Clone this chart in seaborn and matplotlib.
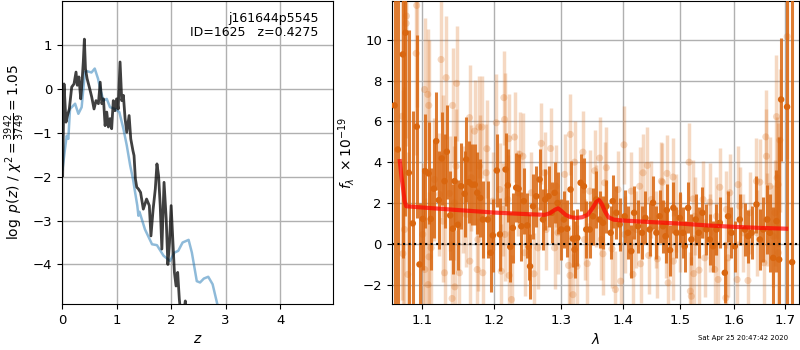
import matplotlib
matplotlib.use("Agg")
import matplotlib.pyplot as plt
import seaborn as sns
from matplotlib.ticker import NullLocator, NullFormatter

# ---------------- data: left panel (log p(z)) ----------------
z_prior = [0.01, 0.055, 0.086, 0.116, 0.147, 0.24, 0.30, 0.36, 0.42, 0.46, 0.54, 0.60,
           0.66, 0.70, 0.76, 0.82, 0.88, 0.97, 1.05, 1.125, 1.187, 1.25, 1.30, 1.34,
           1.38, 1.40, 1.42, 1.52, 1.65, 1.74, 1.86, 1.98, 2.06, 2.13, 2.21, 2.32,
           2.38, 2.47, 2.53, 2.60, 2.68, 2.76, 2.84, 2.92, 3.00]
lp_prior = [-1.83, -1.37, -1.07, -1.14, -0.46, -0.34, -0.57, -0.42, 0.38, 0.40, 0.37, 0.46,
            0.23, 0.0, -0.27, -0.23, -0.42, -0.46, -0.53, -0.91, -1.29, -1.75, -2.05, -2.36,
            -2.66, -2.89, -2.80, -3.20, -3.54, -3.56, -3.80, -3.92, -3.73, -3.69, -3.50, -3.44,
            -3.73, -4.38, -4.41, -4.32, -4.28, -4.45, -4.87, -5.30, -5.80]

z_chi2 = [0.012, 0.037, 0.073, 0.10, 0.134, 0.178, 0.22, 0.257, 0.28, 0.31, 0.343, 0.367,
          0.39, 0.41, 0.43, 0.46, 0.50, 0.545, 0.587, 0.624, 0.667, 0.70, 0.73, 0.76,
          0.79, 0.82, 0.85, 0.88, 0.91, 0.94, 0.97, 1.0, 1.03, 1.064, 1.095, 1.125,
          1.156, 1.187, 1.23, 1.26, 1.30, 1.32, 1.345, 1.37, 1.40, 1.44, 1.49, 1.55,
          1.60, 1.63, 1.67, 1.71, 1.74, 1.77, 1.80, 1.83, 1.87, 1.91, 1.94, 1.97,
          2.0, 2.03, 2.06, 2.09, 2.12, 2.15, 2.19, 2.23, 2.26, 2.29, 2.35]
lp_chi2 = [-1.98, 0.11, -0.76, -0.61, -0.46, 0.04, 0.11, 0.38, 0.08, 0.27, -0.23, 0.15,
           0.61, 1.13, 0.46, 0.23, 0.04, -0.19, -0.46, -0.27, -0.34, 0.15, -0.34, -0.23,
           -0.84, -0.53, -0.87, -0.68, -0.91, -0.27, -0.50, -0.23, -0.46, 0.61, -0.27, -0.15,
           -0.68, -0.99, -0.61, -1.14, -1.41, -1.52, -2.05, -2.24, -2.28, -2.36, -2.74, -2.51,
           -2.66, -3.35, -2.74, -2.28, -1.71, -1.98, -2.66, -3.65, -2.13, -2.97, -4.00, -3.50,
           -2.66, -3.42, -4.18, -4.49, -4.18, -4.79, -5.30, -5.10, -4.83, -5.30, -6.00]

# ---------------- data: right panel (spectrum) ----------------
light_wave = [1.0745, 1.0753, 1.0774, 1.0796, 1.0800, 1.0817, 1.0926, 1.0933, 1.1013, 1.1036,
              1.1040, 1.1079, 1.1083, 1.1092, 1.1096, 1.1124, 1.1169, 1.1236, 1.1258, 1.1279,
              1.1281, 1.1304, 1.1326, 1.1372, 1.1407, 1.1414, 1.1440, 1.1444, 1.1461, 1.1469,
              1.1509, 1.1564, 1.1602, 1.1648, 1.1652, 1.1672, 1.1718, 1.1756, 1.1765, 1.1779,
              1.1789, 1.1822, 1.1835, 1.1884, 1.1893, 1.1978, 1.2029, 1.2075, 1.2099, 1.2124,
              1.2138, 1.2148, 1.2152, 1.2196, 1.2211, 1.2216, 1.2250, 1.2294, 1.2343, 1.2368,
              1.2418, 1.2443, 1.2543, 1.2583, 1.2643, 1.2695, 1.2745, 1.2771, 1.2838, 1.2899,
              1.2925, 1.2951, 1.3055, 1.3117, 1.3140, 1.3145, 1.3186, 1.3212, 1.3250, 1.3345,
              1.3372, 1.3415, 1.3453, 1.3534, 1.3561, 1.3615, 1.3642, 1.3669, 1.3697, 1.3725,
              1.3818, 1.3875, 1.3919, 1.3963, 1.4018, 1.4030, 1.4142, 1.4170, 1.4228, 1.4285,
              1.4300, 1.4342, 1.4417, 1.4440, 1.4486, 1.4574, 1.4592, 1.4662, 1.4680, 1.4750,
              1.4761, 1.4781, 1.4868, 1.4875, 1.4928, 1.4988, 1.5156, 1.5180, 1.5198, 1.5229,
              1.5242, 1.5260, 1.5339, 1.5413, 1.5444, 1.5545, 1.5537, 1.5631, 1.5662, 1.5694,
              1.5725, 1.5839, 1.5852, 1.5883, 1.5915, 1.6055, 1.6074, 1.6107, 1.6170, 1.6266,
              1.6302, 1.6433, 1.6440, 1.6499, 1.6578, 1.6618, 1.6631, 1.6640, 1.6698, 1.6766,
              1.6799, 1.6832, 1.6846, 1.6866, 1.6870, 1.6900, 1.7050]
light_flux = [6.25, -0.48, 0.70, 10.8, 11.16, -1.50, 9.33, 11.68, 0.46, 7.56,
              -1.26, 7.32, -2.00, 6.78, -0.64, -0.20, 3.15, 2.42, 9.03, 4.29,
              1.11, -1.42, 8.14, 2.47, -2.68, 6.78, 2.01, -2.11, 3.80, 7.86,
              -1.42, 2.17, 1.44, 6.18, -0.85, 3.24, 5.52, -1.26, 0.21, 5.72,
              3.80, 5.72, -1.42, 3.48, 4.66, 2.09, 5.93, 2.66, -1.34, 1.68,
              7.16, 6.09, 0.46, 2.17, 5.15, -1.55, -2.73, 5.23, 2.50, 4.38,
              4.29, -0.44, 2.50, -1.47, -0.20, 4.92, 3.48, 0.70, 4.67, -0.20,
              2.82, 0.54, 3.40, -1.06, -1.55, 5.36, -2.49, 4.00, -1.10, 4.49,
              0.21, -0.97, 2.58, 3.58, 1.84, 4.20, 0.21, -0.49, 2.99, 3.73,
              -0.25, -2.24, 2.66, -1.83, 4.85, 0.46, 2.58, -1.50, 0.70, 2.82,
              -0.98, 3.48, 3.84, -0.57, 2.17, 0.70, -0.74, 3.07, 3.02, 0.21,
              3.45, -1.91, 3.27, -0.85, 1.52, 0.54, 4.00, -2.32, -2.57, 2.20,
              -1.46, 1.35, -1.29, 2.17, -0.69, 0.54, 2.04, -1.26, 1.35, -1.75,
              2.77, -2.65, 1.68, -0.69, 2.50, -1.75, 2.90, 1.84, 0.54, -1.80,
              1.52, 3.07, 0.54, 3.02, -0.93, 5.24, 4.29, 1.19, 2.82, 0.37,
              1.52, 6.23, 3.23, 2.90, -0.44, 5.08, 10.15]
light_err = [9.0, 8.0, 7.0, 6.0, 6.0, 6.0, 5.0, 5.0, 3.5, 3.5,
             3.5, 3.2, 3.2, 3.2, 3.2, 3.0, 3.0, 3.0, 3.0, 3.0,
             3.0, 3.0, 3.0, 2.8, 2.8, 2.8, 2.8, 2.8, 2.8, 2.8,
             2.6, 2.6, 2.6, 2.6, 2.6, 2.6, 2.5, 2.5, 2.5, 2.5,
             2.5, 2.5, 2.5, 2.4, 2.4, 2.4, 2.4, 2.3, 2.3, 2.3,
             2.3, 2.3, 2.3, 2.2, 2.2, 2.2, 2.2, 2.2, 2.1, 2.1,
             2.1, 2.1, 2.0, 2.0, 2.0, 2.0, 2.0, 2.0, 2.0, 2.0,
             2.0, 2.0, 2.0, 2.0, 2.0, 2.0, 2.0, 2.0, 2.0, 2.0,
             2.0, 2.0, 2.0, 2.0, 2.0, 2.0, 2.0, 2.0, 2.0, 2.0,
             1.9, 1.9, 1.9, 1.9, 1.9, 1.9, 1.9, 1.9, 1.9, 1.9,
             1.9, 1.9, 1.9, 1.9, 1.9, 1.9, 1.9, 1.9, 1.9, 1.9,
             1.9, 1.9, 1.9, 1.9, 1.9, 1.9, 1.9, 1.9, 1.9, 1.9,
             1.9, 1.9, 1.9, 1.9, 1.9, 1.9, 1.9, 1.9, 1.9, 1.9,
             1.9, 1.9, 1.9, 1.9, 1.9, 1.9, 1.9, 1.9, 1.9, 2.0,
             2.0, 2.1, 2.1, 2.1, 2.2, 2.3, 2.3, 2.3, 2.4, 2.5,
             2.6, 3.0, 3.0, 3.0, 3.2, 3.5, 6.0]

dark_wave = [1.0646, 1.0688, 1.0753, 1.0787, 1.0830, 1.0882, 1.0934, 1.0970, 1.1013, 1.1045,
             1.1089, 1.1119, 1.1160, 1.1192, 1.1227, 1.1267, 1.1304, 1.1335, 1.1381, 1.1417,
             1.1441, 1.1486, 1.1533, 1.1579, 1.1602, 1.1638, 1.1684, 1.1722, 1.1756, 1.1799,
             1.1835, 1.1906, 1.1946, 1.1978, 1.2036, 1.2080, 1.2163, 1.2196, 1.2231, 1.2269,
             1.2319, 1.2354, 1.2394, 1.2432, 1.2483, 1.2505, 1.2525, 1.2570, 1.2620, 1.2669,
             1.2720, 1.2755, 1.2806, 1.2857, 1.2899, 1.2945, 1.3003, 1.3044, 1.3096, 1.3148,
             1.3185, 1.3212, 1.3255, 1.3308, 1.3361, 1.3399, 1.3453, 1.3507, 1.3561, 1.3615,
             1.3670, 1.3725, 1.3797, 1.3830, 1.3891, 1.3946, 1.4030, 1.4086, 1.4142, 1.4190,
             1.4256, 1.4325, 1.4383, 1.4457, 1.4515, 1.4574, 1.4632, 1.4690, 1.4735, 1.4757,
             1.4815, 1.4874, 1.4928, 1.4988, 1.5048, 1.5078, 1.5139, 1.5199, 1.5278, 1.5333,
             1.5401, 1.5475, 1.5537, 1.5599, 1.5662, 1.5725, 1.5820, 1.5883, 1.5947, 1.6011,
             1.6107, 1.6204, 1.6270, 1.6335, 1.6433, 1.6499, 1.6565, 1.6645, 1.6698, 1.6766,
             1.6832, 1.6886, 1.6926, 1.7047, 1.7150]
dark_flux = [6.78, 4.62, 9.28, 10.34, 3.48, 1.00, 5.74, -1.01, 1.22, 3.56,
             3.45, 1.22, 2.70, 5.03, 2.14, 4.18, 3.07, 4.51, 1.39, 0.74,
             3.07, 0.93, 2.82, 2.45, 4.13, 3.02, 2.90, 2.90, 2.50, 2.25,
             1.19, 1.19, -0.44, 0.41, 3.59, 0.46, 3.64, 2.86, -0.15, 0.78,
             2.75, 2.70, 0.86, 2.09, 0.90, -0.15, -1.10, 1.84, 2.33, 3.15,
             1.19, 2.17, 2.33, 1.52, 2.50, 2.00, 0.70, 1.19, 0.74, 2.66,
             0.25, -0.28, 0.29, 2.99, 2.82, 0.70, 0.70, 1.35, 2.17, 1.19,
             1.03, 1.84, 0.54, 2.09, 1.52, 0.95, 1.35, 0.54, -0.36, 1.52,
             0.86, 0.54, 1.27, 0.70, 2.01, 0.54, 1.35, 0.86, 0.37, 1.65,
             -0.31, 1.76, 0.54, 1.27, 0.54, -0.12, 1.76, 0.21, 1.19, 0.54,
             1.52, 0.70, 0.21, -0.12, 0.70, 1.03, -1.42, 1.35, 0.54, -0.12,
             1.19, 0.70, 0.37, 0.54, 1.93, 0.21, 0.70, 1.19, 0.54, -0.69,
             1.11, -0.77, 7.07, 6.71, -0.90]
dark_err = [15.0, 12.0, 10.0, 9.0, 7.0, 5.5, 4.5, 3.0, 2.5, 2.8,
            2.5, 2.5, 2.4, 2.4, 2.4, 2.3, 2.3, 2.3, 2.2, 2.2,
            2.2, 2.2, 2.1, 2.1, 2.1, 2.0, 2.0, 2.0, 2.0, 1.9,
            1.9, 1.9, 1.9, 1.8, 1.8, 1.8, 1.8, 1.8, 1.7, 1.7,
            1.7, 1.7, 1.7, 1.6, 1.6, 1.6, 1.6, 1.6, 1.5, 1.5,
            1.5, 1.5, 1.5, 1.5, 1.5, 1.5, 1.5, 1.4, 1.4, 1.4,
            1.4, 1.4, 1.4, 1.4, 1.4, 1.4, 1.4, 1.4, 1.4, 1.4,
            1.3, 1.3, 1.3, 1.3, 1.3, 1.3, 1.3, 1.3, 1.3, 1.3,
            1.3, 1.3, 1.3, 1.3, 1.3, 1.3, 1.3, 1.3, 1.3, 1.3,
            1.25, 1.25, 1.25, 1.25, 1.25, 1.25, 1.25, 1.25, 1.25, 1.25,
            1.25, 1.25, 1.25, 1.25, 1.25, 1.25, 1.5, 1.25, 1.25, 1.25,
            1.25, 1.3, 1.3, 1.3, 1.4, 1.5, 1.6, 1.7, 1.9, 2.5,
            2.5, 6.0, 3.0, 15.0, 15.0]

model_wave = [1.0714, 1.0735, 1.0755, 1.0775, 1.0796, 1.10, 1.15, 1.20, 1.25, 1.275,
              1.283, 1.290, 1.2954, 1.300, 1.307, 1.315, 1.324, 1.333, 1.342, 1.350,
              1.356, 1.3607, 1.365, 1.370, 1.376, 1.385, 1.40, 1.45, 1.50, 1.55,
              1.60, 1.65, 1.703]
model_flux = [4.05, 3.30, 2.74, 2.10, 1.84, 1.78, 1.65, 1.53, 1.45, 1.42,
              1.50, 1.66, 1.74, 1.62, 1.42, 1.30, 1.27, 1.30, 1.42, 1.75,
              2.05, 2.14, 1.95, 1.60, 1.30, 1.18, 1.14, 1.06, 0.99, 0.90,
              0.83, 0.78, 0.74]

wave_ticks = [1.1, 1.2, 1.3, 1.4, 1.5, 1.6, 1.7]
wave_ticklabels = ["1.1", "1.2", "1.3", "1.4", "1.5", "1.6", "1.7"]

title_text = "j161644p5545\nID=1625   z=0.4275"
stamp_text = "Sat Apr 25 20:47:42 2020"

# ---------------- figure ----------------
plt.rcParams['font.family'] = ['DejaVu Sans']
fig = plt.figure(figsize=(8, 3.5), dpi=100)
ax1 = fig.add_axes([0.0775, 0.1314, 0.339, 0.866])
ax2 = fig.add_axes([0.4896, 0.1314, 0.509, 0.866])

grid_kw = dict(color='#b0b0b0', linewidth=1.0)

# left panel
sns.lineplot(x=z_prior, y=lp_prior, ax=ax1, color='#1f77b4', alpha=0.5, linewidth=1.8,
             estimator=None, sort=False)
sns.lineplot(x=z_chi2, y=lp_chi2, ax=ax1, color='k', alpha=0.75, linewidth=2.0,
             estimator=None, sort=False)
ax1.set_xlim(0, 4.97)
ax1.set_ylim(-4.9, 2.0)
ax1.set_xticks([0, 1, 2, 3, 4])
ax1.set_yticks([-4, -3, -2, -1, 0, 1])
ax1.grid(True, **grid_kw)
ax1.tick_params(labelsize=9.5)
ax1.set_xlabel(r'$z$', fontsize=10)
ax1.set_ylabel(r'$\log\ p(z)$ / $\chi^2=\frac{3942}{3749}=1.05$', fontsize=10)
ax1.text(0.945, 0.965, title_text, transform=ax1.transAxes, ha='right', va='top',
         fontsize=9, linespacing=1.15)

# right panel
orange = '#d9660f'
ax2.errorbar(light_wave, light_flux, yerr=light_err, fmt='none', ecolor=orange,
             alpha=0.25, elinewidth=2.5, capsize=0, zorder=2)
sns.scatterplot(x=light_wave, y=light_flux, ax=ax2, color=orange, alpha=0.25, s=26,
                edgecolor='none', zorder=2)
ax2.errorbar(dark_wave, dark_flux, yerr=dark_err, fmt='none', ecolor=orange,
             alpha=0.85, elinewidth=2.2, capsize=0, zorder=3)
sns.scatterplot(x=dark_wave, y=dark_flux, ax=ax2, color=orange, alpha=1.0, s=22,
                edgecolor='none', zorder=3)
sns.lineplot(x=model_wave, y=model_flux, ax=ax2, color='red', alpha=0.7, linewidth=3,
             estimator=None, sort=False, zorder=4)
ax2.axhline(0, color='k', linestyle=':', linewidth=1.5, zorder=5)
ax2.set_xscale('log')
ax2.set_xlim(1.061, 1.729)
ax2.set_ylim(-2.95, 11.9)
ax2.set_xticks(wave_ticks)
ax2.set_xticklabels(wave_ticklabels)
ax2.xaxis.set_minor_locator(NullLocator())
ax2.xaxis.set_minor_formatter(NullFormatter())
ax2.set_yticks([-2, 0, 2, 4, 6, 8, 10])
ax2.grid(True, **grid_kw)
ax2.tick_params(labelsize=9.5)
ax2.set_xlabel(r'$\lambda$', fontsize=10)
ax2.set_ylabel(r'$f_\lambda\ \times 10^{-19}$', fontsize=10)

fig.text(0.985, 0.025, stamp_text, ha='right', va='bottom', fontsize=5)

fig.savefig('out.png', dpi=100)
